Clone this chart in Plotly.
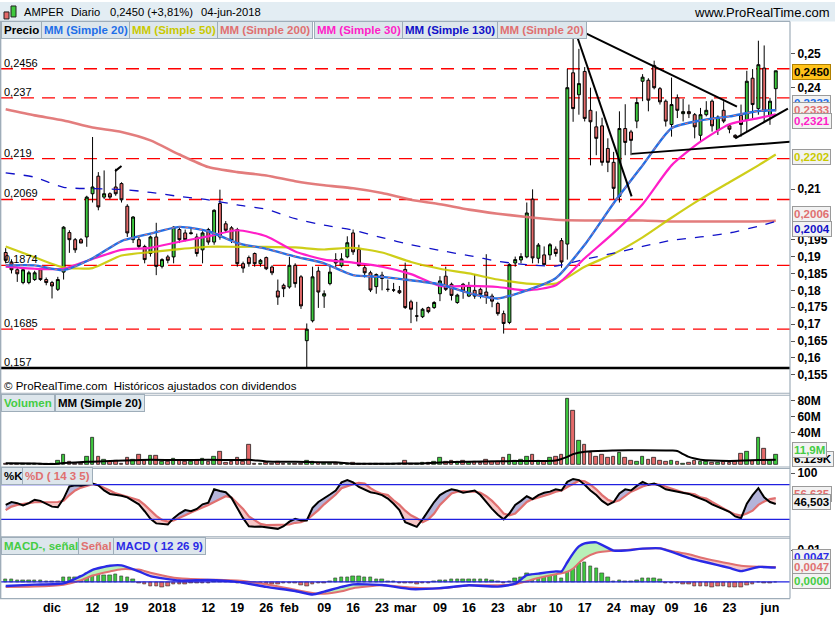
import plotly.graph_objects as go
import pandas as pd

W, H = 835, 620

# ---------------- categories (trading days) ----------------
holidays = ["2017-12-25", "2017-12-26", "2018-01-01", "2018-03-30", "2018-04-02", "2018-05-01"]
dates = [d.strftime("%Y-%m-%d") for d in pd.bdate_range("2017-11-21", "2018-06-04")
         if d.strftime("%Y-%m-%d") not in holidays]
n = len(dates)
pos = {d: k for k, d in enumerate(dates)}

tick_dates = ["2017-12-01", "2017-12-12", "2017-12-19", "2018-01-02", "2018-01-12", "2018-01-19",
              "2018-01-26", "2018-02-01", "2018-02-09", "2018-02-16", "2018-02-23", "2018-03-01",
              "2018-03-09", "2018-03-16", "2018-03-23", "2018-04-03", "2018-04-10", "2018-04-17",
              "2018-04-24", "2018-05-02", "2018-05-09", "2018-05-16", "2018-05-23", "2018-06-01"]
tick_labels = ["dic", "12", "19", "2018", "12", "19", "26", "feb", "09", "16", "23", "mar",
               "09", "16", "23", "abr", "10", "17", "24", "may", "09", "16", "23", "jun"]

# ---------------- prices ----------------
opens = [0.1912, 0.1884, 0.1861, 0.1823, 0.1823, 0.1832, 0.1861, 0.1832, 0.1823, 0.1803,
         0.1854, 0.1971, 0.1950, 0.1950, 0.1958, 0.2086, 0.2138, 0.2076, 0.2086, 0.2106,
         0.2116, 0.2049, 0.1950, 0.1950, 0.1930, 0.1909, 0.1958, 0.1871, 0.1899, 0.1899,
         0.1980, 0.1970, 0.1968, 0.1958, 0.1920, 0.1980, 0.1943, 0.2057, 0.1997, 0.1985,
         0.1980, 0.1879, 0.1897, 0.1909, 0.1879, 0.1897, 0.1869, 0.1798, 0.1815, 0.1810,
         0.1874, 0.1840, 0.1651, 0.1710, 0.1857, 0.1783, 0.1820, 0.1891, 0.1873, 0.1899,
         0.1970, 0.1921, 0.1867, 0.1852, 0.1811, 0.1845, 0.1803, 0.1801, 0.1799, 0.1862,
         0.1766, 0.1724, 0.1722, 0.1749, 0.1749, 0.1790, 0.1842, 0.1818, 0.1764, 0.1818,
         0.1783, 0.1800, 0.1803, 0.1795, 0.1783, 0.1761, 0.1731, 0.1705, 0.1881, 0.1890,
         0.1899, 0.2070, 0.1895, 0.1905, 0.1905, 0.1922, 0.1947, 0.1937, 0.2444, 0.2379,
         0.2448, 0.2333, 0.2284, 0.2287, 0.2220, 0.2179, 0.2078, 0.2279, 0.2269, 0.2301,
         0.2419, 0.2422, 0.2466, 0.2397, 0.2360, 0.2291, 0.2370, 0.2323, 0.2329, 0.2320,
         0.2259, 0.2320, 0.2360, 0.2274, 0.2333, 0.2287, 0.2259, 0.2318, 0.2304, 0.2428,
         0.2338, 0.2458, 0.2318, 0.2397]
highs = [0.1925, 0.1892, 0.1868, 0.1866, 0.1858, 0.1858, 0.1866, 0.1838, 0.1828, 0.1840,
         0.1990, 0.1978, 0.1955, 0.1955, 0.2080, 0.2254, 0.2150, 0.2155, 0.2090, 0.2160,
         0.2120, 0.2055, 0.2020, 0.1958, 0.1935, 0.1962, 0.2000, 0.1895, 0.1905, 0.1990,
         0.1985, 0.1980, 0.1985, 0.1968, 0.1975, 0.1985, 0.2040, 0.2098, 0.2005, 0.1990,
         0.1985, 0.1885, 0.1903, 0.1912, 0.1893, 0.1900, 0.1874, 0.1832, 0.1820, 0.1899,
         0.1880, 0.1845, 0.1702, 0.1870, 0.1870, 0.1800, 0.1876, 0.1910, 0.1910, 0.1960,
         0.1980, 0.1935, 0.1880, 0.1858, 0.1850, 0.1855, 0.1832, 0.1822, 0.1813, 0.1882,
         0.1772, 0.1766, 0.1748, 0.1752, 0.1768, 0.1842, 0.1870, 0.1823, 0.1790, 0.1822,
         0.1825, 0.1848, 0.1808, 0.1907, 0.1790, 0.1766, 0.1740, 0.1880, 0.1900, 0.1910,
         0.2060, 0.2099, 0.1940, 0.1930, 0.1940, 0.1930, 0.1955, 0.2456, 0.2554, 0.2515,
         0.2461, 0.2400, 0.2330, 0.2311, 0.2250, 0.2210, 0.2330, 0.2351, 0.2275, 0.2370,
         0.2440, 0.2428, 0.2480, 0.2402, 0.2365, 0.2430, 0.2380, 0.2367, 0.2350, 0.2325,
         0.2340, 0.2360, 0.2365, 0.2318, 0.2360, 0.2292, 0.2262, 0.2350, 0.2450, 0.2455,
         0.2539, 0.2525, 0.2370, 0.2450]
lows = [0.1880, 0.1850, 0.1825, 0.1818, 0.1818, 0.1828, 0.1828, 0.1815, 0.1776, 0.1798,
        0.1832, 0.1911, 0.1911, 0.1940, 0.1929, 0.2060, 0.2037, 0.2070, 0.2070, 0.2080,
        0.2060, 0.1958, 0.1940, 0.1925, 0.1880, 0.1900, 0.1845, 0.1865, 0.1880, 0.1880,
        0.1940, 0.1945, 0.1965, 0.1900, 0.1880, 0.1935, 0.1935, 0.1950, 0.1970, 0.1940,
        0.1870, 0.1852, 0.1870, 0.1870, 0.1870, 0.1860, 0.1845, 0.1757, 0.1780, 0.1805,
        0.1808, 0.1745, 0.1570, 0.1705, 0.1748, 0.1748, 0.1815, 0.1865, 0.1868, 0.1895,
        0.1905, 0.1870, 0.1838, 0.1795, 0.1790, 0.1800, 0.1796, 0.1795, 0.1789, 0.1745,
        0.1703, 0.1708, 0.1718, 0.1732, 0.1745, 0.1768, 0.1798, 0.1770, 0.1760, 0.1775,
        0.1780, 0.1775, 0.1776, 0.1760, 0.1750, 0.1725, 0.1672, 0.1700, 0.1870, 0.1880,
        0.1895, 0.1880, 0.1880, 0.1875, 0.1890, 0.1900, 0.1867, 0.1891, 0.2299, 0.2320,
        0.2300, 0.2170, 0.2200, 0.2169, 0.2150, 0.2070, 0.2060, 0.2200, 0.2200, 0.2280,
        0.2360, 0.2330, 0.2395, 0.2350, 0.2285, 0.2255, 0.2310, 0.2300, 0.2310, 0.2250,
        0.2240, 0.2315, 0.2270, 0.2260, 0.2295, 0.2265, 0.2250, 0.2255, 0.2270, 0.2310,
        0.2320, 0.2300, 0.2290, 0.2330]
closes = [0.1889, 0.1861, 0.1849, 0.1861, 0.1852, 0.1852, 0.1832, 0.1823, 0.1813, 0.1832,
          0.1987, 0.1950, 0.1920, 0.1940, 0.2076, 0.2106, 0.2047, 0.2086, 0.2076, 0.2086,
          0.2068, 0.1970, 0.2017, 0.1930, 0.1891, 0.1958, 0.1871, 0.1891, 0.1889, 0.1987,
          0.1950, 0.1950, 0.1970, 0.1909, 0.1970, 0.1943, 0.2037, 0.1958, 0.1978, 0.1948,
          0.1879, 0.1866, 0.1879, 0.1879, 0.1889, 0.1864, 0.1852, 0.1780, 0.1805, 0.1874,
          0.1820, 0.1754, 0.1685, 0.1840, 0.1795, 0.1790, 0.1854, 0.1881, 0.1893, 0.1941,
          0.1914, 0.1874, 0.1852, 0.1801, 0.1847, 0.1835, 0.1803, 0.1801, 0.1793, 0.1749,
          0.1744, 0.1724, 0.1744, 0.1737, 0.1764, 0.1828, 0.1803, 0.1785, 0.1786, 0.1798,
          0.1813, 0.1783, 0.1788, 0.1783, 0.1768, 0.1731, 0.1702, 0.1876, 0.1891, 0.1900,
          0.2029, 0.1896, 0.1934, 0.1876, 0.1935, 0.1909, 0.1884, 0.2400, 0.2338, 0.2412,
          0.2309, 0.2299, 0.2250, 0.2179, 0.2179, 0.2102, 0.2279, 0.2238, 0.2244, 0.2356,
          0.2431, 0.2363, 0.2400, 0.2358, 0.2301, 0.2350, 0.2333, 0.2329, 0.2323, 0.2284,
          0.2320, 0.2333, 0.2287, 0.2313, 0.2301, 0.2277, 0.2253, 0.2291, 0.2419, 0.2350,
          0.2468, 0.2330, 0.2360, 0.2450]

# ---------------- volume (millions) ----------------
volumes = [1.5, 1.2, 1.0, 1.2, 1.0, 1.0, 1.5, 1.0, 0.8, 5, 12.5, 3, 1, 1, 10, 33, 10, 6, 3, 5,
           1.5, 8, 6, 12, 5, 11, 11, 3, 3.5, 7, 5, 4, 3, 5, 7, 3, 10, 16, 2, 3,
           8, 3, 25, 1, 1, 2, 1, 4, 1, 1, 1, 1.5, 5, 3, 2, 1, 1, 1.5, 1, 1.5,
           2, 1, 1, 1, 1, 1, 1, 1, 1, 5, 1, 1, 2, 2, 3, 8, 3, 5, 3, 5,
           2, 3, 2, 6, 3, 4, 8, 12, 5, 6, 10, 12, 5, 4, 8, 10, 12, 82, 67, 30,
           25, 15, 10, 12, 8, 10, 15, 8, 5, 4, 10, 6, 8, 5, 4, 5, 3, 1, 2, 5,
           3, 4, 2, 2, 4, 2, 3, 13, 16, 5, 33, 20, 5, 11.9]
volma_idx = [0, 5, 8, 10, 14, 16, 22, 25, 30, 35, 40, 42, 45, 50, 54, 57, 60, 65, 68, 71,
             75, 80, 85, 90, 95, 97, 98, 100, 105, 110, 115, 116, 117, 118, 119, 120, 125, 130, 133]
volma = [1.7, 1.2, 0.6, 1.8, 3.3, 3.8, 5.4, 6.0, 5.5, 6.0, 5.5, 6.0, 3.8, 3.5, 2.9, 2.9, 1.0, 1.0, 1.2, 1.2,
         2.5, 3.5, 4.0, 4.5, 5.0, 9.5, 13.0, 16.0, 17.5, 18.0, 17.5, 17.0, 13.0, 9.5, 7.5, 6.0, 4.5, 5.5, 6.1]

# ---------------- moving averages (price) ----------------
ma_idx = [0, 5, 10, 15, 20, 25, 30, 35, 40, 45, 50, 55, 60, 65, 70, 75, 80, 85, 90, 95,
          100, 105, 110, 115, 120, 125, 130, 133]
sma20 = [0.1874, 0.1874, 0.1860, 0.1895, 0.1946, 0.1968, 0.1988, 0.1975, 0.1940, 0.1923,
         0.1900, 0.1880, 0.1845, 0.1840, 0.1830, 0.1818, 0.1792, 0.1776, 0.1800, 0.1836,
         0.1935, 0.2058, 0.2170, 0.2280, 0.2303, 0.2315, 0.2331, 0.2333]
sma30 = [0.1870, 0.1864, 0.1864, 0.1893, 0.1920, 0.1926, 0.1944, 0.1960, 0.1978, 0.1960,
         0.1915, 0.1891, 0.1882, 0.1870, 0.1848, 0.1813, 0.1813, 0.1810, 0.1800, 0.1815,
         0.1895, 0.1970, 0.2055, 0.2170, 0.2240, 0.2292, 0.2310, 0.2321]
sma50 = [0.1930, 0.1898, 0.1868, 0.1866, 0.1903, 0.1913, 0.1922, 0.1929, 0.1929, 0.1929,
         0.1927, 0.1921, 0.1926, 0.1912, 0.1884, 0.1864, 0.1850, 0.1832, 0.1820, 0.1820,
         0.1870, 0.1908, 0.1957, 0.2015, 0.2070, 0.2120, 0.2170, 0.2202]
sma130 = [0.2148, 0.2135, 0.2105, 0.2101, 0.2099, 0.2090, 0.2078, 0.2068, 0.2053, 0.2040,
          0.2012, 0.1993, 0.1978, 0.1956, 0.1935, 0.1918, 0.1903, 0.1886, 0.1876, 0.1872,
          0.1892, 0.1910, 0.1930, 0.1948, 0.1958, 0.1970, 0.1990, 0.2004]
sma200 = [0.2336, 0.2318, 0.2303, 0.2282, 0.2269, 0.2244, 0.2202, 0.2165, 0.2150, 0.2140,
          0.2123, 0.2111, 0.2102, 0.2088, 0.2068, 0.2055, 0.2039, 0.2027, 0.2017, 0.2009,
          0.2007, 0.2007, 0.2007, 0.2004, 0.2004, 0.2004, 0.2004, 0.2006]

# horizontal levels and drawn trend lines (start day index, price, end day index, price)
levels = [0.2456, 0.237, 0.219, 0.2069, 0.1874, 0.1685]
level_labels = ["0,2456", "0,237", "0,219", "0,2069", "0,1874", "0,1685"]
base_level, base_label = 0.157, "0,157"
trend_lines = [(98.6, 0.2556, 108.1, 0.2078), (100.3, 0.2560, 126.3, 0.2344),
               (108.1, 0.2204, 135.5, 0.2240), (126.0, 0.2250, 135.1, 0.2338),
               (18.9, 0.2153, 20.0, 0.2168)]

# ---------------- stochastic ----------------
stoch_k = [45, 50, 48, 44, 48, 54, 52, 47, 42, 41, 56, 77, 79, 78, 80, 82, 79, 70, 64, 63,
           61, 58, 52, 46, 34, 21, 13, 12, 11, 22, 30, 36, 34, 38, 46, 49, 72, 69, 67, 57,
           40, 22, 8, 7, 7.6, 6, 5, 3.5, 8, 16, 21, 18, 18, 40, 50, 56, 63, 70, 84, 88,
           84, 76, 72, 67, 65, 62, 56, 47, 36, 15, 11, 7, 20, 35, 50, 62, 68, 72, 70, 66,
           68, 70, 62, 50, 38, 28, 20, 30, 45, 52, 60, 55, 62, 66, 68, 72, 70, 85, 90, 88,
           80, 70, 62, 52, 45, 50, 65, 72, 70, 78, 85, 80, 82, 78, 72, 70, 68, 67, 64, 60,
           56, 52, 46, 42, 38, 33, 25, 22, 47, 62, 74, 58, 50, 46.5]
stoch_d = [36, 42, 45, 47, 48, 49.6, 49.5, 49, 49, 50, 52, 62, 70, 75, 78, 81, 79, 75, 70, 65,
           62, 59, 56, 53, 45, 35, 26, 19, 16, 18, 22, 27, 32, 36, 40, 45, 50, 55, 60, 58,
           48, 38, 25, 18, 12, 10, 10, 10, 10, 11, 14, 15, 19, 27, 36, 46, 54, 63, 74, 78,
           81, 83, 82, 74, 68, 64, 62, 53, 45, 35, 27, 22, 15, 20, 30, 45, 55, 65, 68, 69,
           68, 68, 66, 60, 52, 42, 30, 27, 30, 40, 50, 55, 58, 60, 64, 68, 70, 76, 82, 87,
           86, 80, 72, 62, 54, 50, 53, 60, 68, 72, 77, 80, 81, 80, 77, 73, 70, 66.5, 65, 63.5,
           58, 56, 50, 44, 38, 33, 28.5, 26.5, 30, 35, 45, 51, 55, 56.635]

# ---------------- MACD ----------------
macd_idx = [0, 5, 10, 13, 15, 18, 20, 23, 25, 30, 35, 40, 45, 50, 53, 55, 58, 60, 65, 70,
            75, 80, 85, 88, 90, 92, 95, 96, 97, 98, 99, 100, 102, 105, 107, 110, 113, 115, 118, 120,
            123, 125, 127, 130, 133]
macd_line = [-0.0013, -0.0009, -0.0005, 0.0018, 0.0038, 0.0051, 0.0052, 0.0033, 0.0018, 0.0004,
             0.0006, 0.0000, -0.0016, -0.0029, -0.0040, -0.0031, -0.0016, -0.0008, -0.0010, -0.0023,
             -0.0020, -0.0011, -0.0015, -0.0006, 0.0021, 0.0026, 0.0033, 0.0033, 0.0062, 0.0090,
             0.0112, 0.0122, 0.0125, 0.0099, 0.0099, 0.0105, 0.0106, 0.0095, 0.0075, 0.0066,
             0.0053, 0.0044, 0.0034, 0.0047, 0.0045]
signal_line = [-0.0016, -0.0015, -0.0009, 0.0005, 0.0020, 0.0033, 0.0040, 0.0039, 0.0029, 0.0011,
               0.0007, 0.0004, -0.0008, -0.0025, -0.0035, -0.0038, -0.0030, -0.0020, -0.0011, -0.0018,
               -0.0021, -0.0011, -0.0011, -0.0008, 0.0002, 0.0012, 0.0024, 0.0027, 0.0032, 0.0042,
               0.0060, 0.0075, 0.0092, 0.0099, 0.0101, 0.0105, 0.0106, 0.0098, 0.0087, 0.0077,
               0.0065, 0.0058, 0.0051, 0.0048, 0.0047]
macd_hist = [0.0008, 0.0008, 0.0005, 0.0005, 0.0005, 0.0005, 0.0005, 0.0001, 0.0001, 0.0001,
             0.0013, 0.0015, 0.0015, 0.0019, 0.0026, 0.0029, 0.0026, 0.0021, 0.0021, 0.0023,
             0.0019, 0.0013, 0.0008, -0.0003, -0.0009, -0.0013, -0.0013, -0.0018, -0.0015, -0.0008,
             -0.0008, -0.0007, -0.0005, -0.0005, -0.0003, -0.0003, 0.0003, 0.0003, 0.0003, 0.0002,
             -0.0003, -0.0005, -0.0005, -0.0007, -0.0007, -0.0007, -0.0008, -0.0008, -0.0005, -0.0005,
             -0.0005, -0.0010, -0.0013, -0.0008, -0.0005, -0.0003, 0.0001, 0.0011, 0.0013, 0.0016,
             0.0019, 0.0019, 0.0016, 0.0013, 0.0008, 0.0007, 0.0001, 0.0001, -0.0003, -0.0005,
             -0.0005, -0.0008, -0.0003, -0.0003, 0.0001, 0.0005, 0.0005, 0.0008, 0.0008, 0.0008,
             0.0009, 0.0008, 0.0008, 0.0008, 0.0005, 0.0001, -0.0003, 0.0001, 0.0011, 0.0013,
             0.0026, 0.0023, 0.0021, 0.0019, 0.0021, 0.0023, 0.0011, 0.0040, 0.0050, 0.0058,
             0.0061, 0.0050, 0.0042, 0.0026, 0.0014, 0.0001, 0.0005, 0.0001, 0.0001, 0.0005,
             0.0011, 0.0011, 0.0011, 0.0009, -0.0003, -0.0003, -0.0005, -0.0008, -0.0009, -0.0015,
             -0.0015, -0.0015, -0.0018, -0.0015, -0.0015, -0.0018, -0.0018, -0.0018, -0.0010, -0.0007,
             -0.0001, -0.0003, -0.0003, -0.0001]

# ---------------- styling ----------------
GREEN, RED = "#3ec93e", "#e46a6a"
C20, C50, C200, C30, C130 = "#1f6fe8", "#c9c900", "#e07070", "#ff1ec8", "#1010c8"
FONT = "Liberation Sans, Arial, sans-serif"
XMAX = 790  # right edge of plot area (px)
x_dom = [0, XMAX / W]
x_rng = [-0.985, 135.46]


def py(px):
    return 1 - px / H


xi = list(range(n))
fig = go.Figure()

# price panel
for ma, col, w in [(sma200, C200, 2.6), (sma50, C50, 2.2)]:
    fig.add_trace(go.Scatter(x=ma_idx, y=ma, mode="lines", line=dict(color=col, width=w, shape="spline", smoothing=0.6),
                             opacity=0.9, xaxis="x", yaxis="y", hoverinfo="skip"))
fig.add_trace(go.Scatter(x=ma_idx, y=sma130, mode="lines", line=dict(color=C130, width=1.3, dash="9px,9px", shape="spline", smoothing=0.6),
                         xaxis="x", yaxis="y", hoverinfo="skip"))
fig.add_trace(go.Candlestick(x=xi, open=opens, high=highs, low=lows, close=closes,
                             increasing=dict(line=dict(color="black", width=1), fillcolor=GREEN),
                             decreasing=dict(line=dict(color="black", width=1), fillcolor=RED),
                             whiskerwidth=0, xaxis="x", yaxis="y", hoverinfo="skip"))
for ma, col, w in [(sma30, C30, 2.2), (sma20, C20, 2.4)]:
    fig.add_trace(go.Scatter(x=ma_idx, y=ma, mode="lines", line=dict(color=col, width=w, shape="spline", smoothing=0.6),
                             xaxis="x", yaxis="y", hoverinfo="skip"))
fig.add_trace(go.Scatter(x=ma_idx, y=sma20, mode="lines", line=dict(color=C200, width=1, dash="3px,4px", shape="spline", smoothing=0.6),
                         xaxis="x", yaxis="y", hoverinfo="skip"))

# volume panel
vcol = [GREEN if c >= o else RED for o, c in zip(opens, closes)]
fig.add_trace(go.Bar(x=xi, y=volumes, marker=dict(color=vcol, line=dict(color="#202020", width=0.8)),
                     width=0.62, xaxis="x2", yaxis="y2", hoverinfo="skip"))
fig.add_trace(go.Scatter(x=volma_idx, y=volma, mode="lines", line=dict(color="black", width=2, shape="spline", smoothing=0.6),
                         xaxis="x2", yaxis="y2", hoverinfo="skip"))


def fill_runs(xs, a, b):
    pts = [(xs[0], a[0], b[0])]
    for k in range(len(xs) - 1):
        d0, d1 = a[k] - b[k], a[k + 1] - b[k + 1]
        if d0 * d1 < 0:
            t = d0 / (d0 - d1)
            xm = xs[k] + t * (xs[k + 1] - xs[k])
            ym = a[k] + t * (a[k + 1] - a[k])
            pts.append((xm, ym, ym))
        pts.append((xs[k + 1], a[k + 1], b[k + 1]))
    runs, cur, sign = [], [pts[0]], None
    for p in pts[1:]:
        cur.append(p)
        d = p[1] - p[2]
        if d == 0:
            if sign is not None:
                runs.append((sign, cur))
            cur, sign = [p], None
        elif sign is None:
            sign = d > 0
    if sign is not None:
        runs.append((sign, cur))
    out = {True: ([], []), False: ([], [])}
    for s, r in runs:
        X, Y = out[s]
        X += [p[0] for p in r] + [p[0] for p in reversed(r)] + [None]
        Y += [p[1] for p in r] + [p[2] for p in reversed(r)] + [None]
    return out


# stochastic panel
sf = fill_runs(xi, stoch_k, stoch_d)
for s, col in [(True, "#b4b4da"), (False, "#f6c6c6")]:
    fig.add_trace(go.Scatter(x=sf[s][0], y=sf[s][1], mode="lines", fill="toself", fillcolor=col,
                             line=dict(width=0), xaxis="x3", yaxis="y3", hoverinfo="skip"))
fig.add_trace(go.Scatter(x=xi, y=stoch_d, mode="lines", line=dict(color="#e07070", width=2.2),
                         xaxis="x3", yaxis="y3", hoverinfo="skip"))
fig.add_trace(go.Scatter(x=xi, y=stoch_k, mode="lines", line=dict(color="black", width=2),
                         xaxis="x3", yaxis="y3", hoverinfo="skip"))

# MACD panel
mf = fill_runs(macd_idx, macd_line, signal_line)
for s, col in [(True, "#b8f0b8"), (False, "#f6c6c6")]:
    fig.add_trace(go.Scatter(x=mf[s][0], y=mf[s][1], mode="lines", fill="toself", fillcolor=col,
                             line=dict(width=0), xaxis="x4", yaxis="y4", hoverinfo="skip"))
hcol = [GREEN if v >= 0 else RED for v in macd_hist]
fig.add_trace(go.Bar(x=xi, y=macd_hist, marker=dict(color=hcol, line=dict(color="#303030", width=0.6)),
                     width=0.6, xaxis="x4", yaxis="y4", hoverinfo="skip"))
fig.add_trace(go.Scatter(x=macd_idx, y=signal_line, mode="lines", line=dict(color="#e07070", width=2, shape="spline", smoothing=0.5),
                         xaxis="x4", yaxis="y4", hoverinfo="skip"))
fig.add_trace(go.Scatter(x=macd_idx, y=macd_line, mode="lines", line=dict(color="#2a2ae6", width=2.4, shape="spline", smoothing=0.5),
                         xaxis="x4", yaxis="y4", hoverinfo="skip"))

shapes = []
# level lines
for lv in levels:
    shapes.append(dict(type="line", xref="x domain", yref="y", x0=0, x1=1, y0=lv, y1=lv,
                       line=dict(color="#ff0000", width=1.3, dash="13px,8px"), layer="below"))
shapes.append(dict(type="line", xref="x domain", yref="y", x0=0, x1=1, y0=base_level, y1=base_level,
                   line=dict(color="black", width=2.6)))
for (a0, p0, a1, p1) in trend_lines:
    shapes.append(dict(type="line", xref="x", yref="y", x0=a0, x1=a1, y0=p0, y1=p1,
                       line=dict(color="black", width=2)))
# stoch / macd guide lines
for v in (80, 20):
    shapes.append(dict(type="line", xref="x3 domain", yref="y3", x0=0, x1=1, y0=v, y1=v,
                       line=dict(color="#2020e0", width=1.2)))
shapes.append(dict(type="line", xref="x4 domain", yref="y4", x0=0, x1=1, y0=0, y1=0,
                   line=dict(color="#2020e0", width=1.4)))
# header band
shapes.append(dict(type="rect", xref="paper", yref="paper", x0=0, x1=1, y0=py(19.5), y1=1,
                   fillcolor="#e3edf3", line=dict(width=0), layer="below"))
# icon
shapes.append(dict(type="rect", xref="paper", yref="paper", x0=4 / W, x1=9 / W, y0=py(17), y1=py(10),
                   fillcolor=RED, line=dict(color="#202020", width=1)))
shapes.append(dict(type="rect", xref="paper", yref="paper", x0=11 / W, x1=16 / W, y0=py(15), y1=py(4),
                   fillcolor=GREEN, line=dict(color="#202020", width=1)))
# panel separators
SEP = "#9fadb9"
for ypx in [19.5, 392.5, 394.5, 466.5, 468, 536.5, 538, 598.5]:
    shapes.append(dict(type="line", xref="paper", yref="paper", x0=0, x1=XMAX / W, y0=py(ypx), y1=py(ypx),
                       line=dict(color=SEP, width=1.2)))
shapes.append(dict(type="line", xref="paper", yref="paper", x0=XMAX / W, x1=XMAX / W, y0=py(598.5), y1=py(19.5),
                   line=dict(color=SEP, width=1.2)))
shapes.append(dict(type="line", xref="paper", yref="paper", x0=0.6 / W, x1=0.6 / W, y0=py(598.5), y1=py(19.5),
                   line=dict(color=SEP, width=1.5)))

ann = []


def text(t, xpx, ypx, size=12, color="black", bold=False, anchor="left", bg=None, border=None, pad=1):
    d = dict(x=xpx / W, y=py(ypx), xref="paper", yref="paper", showarrow=False, xanchor=anchor,
             yanchor="middle", text=("<b>%s</b>" % t) if bold else t,
             font=dict(family=FONT, size=size, color=color))
    if bg:
        d.update(bgcolor=bg, bordercolor=border or bg, borderwidth=1, borderpad=pad)
    ann.append(d)


# header
text("AMPER", 22, 10, 11.2)
text("Diario", 69, 10, 11.2)
text("0,2450 (+3,81%)", 108, 10, 11.2)
text("04-jun-2018", 199, 10, 11.2)
text("www.ProRealTime.com", 832, 11, 13, anchor="right")

# legends
LBG, LBD = "#dde6ec", "#9eadb9"
for t, c, x in [("Precio", "black", 1), ("MM (Simple 20)", C20, 41), ("MM (Simple 50)", C50, 129),
                ("MM (Simple 200)", C200, 217), ("MM (Simple 30)", C30, 314), ("MM (Simple 130)", C130, 402),
                ("MM (Simple 20)", C200, 497)]:
    text(t, x, 28, 11.5, c, True, bg=LBG, border=LBD, pad=2)
for t, c, x in [("Volumen", "#44cc44", 1), ("MM (Simple 20)", "black", 55)]:
    text(t, x, 402.5, 11.5, c, True, bg=LBG, border=LBD, pad=2)
for t, c, x in [("%K", "black", 1), ("%D ( 14 3 5)", C200, 22)]:
    text(t, x, 475.5, 11.5, c, True, bg=LBG, border=LBD, pad=2)
for t, c, x in [("MACD-, señal", "#44cc44", 1), ("Señal", C200, 78), ("MACD ( 12 26 9)", "#2a2ae6", 113)]:
    text(t, x, 545.5, 11.5, c, True, bg=LBG, border=LBD, pad=2)

# level labels on the left
for lv, lb in zip(levels + [base_level], level_labels + [base_label]):
    ann.append(dict(x=2 / W, xref="paper", y=lv, yref="y", yshift=6, showarrow=False, xanchor="left",
                    yanchor="middle", text=lb, font=dict(family=FONT, size=11, color="black")))

text("© ProRealTime.com  Históricos ajustados con dividendos", 2, 385, 11.5)

# right side value boxes
BOXBG, BOXBD = "#f2f2f2", "#9a9a9a"
text("0,2450", 792, 70, 11.5, "black", True, bg="#ffc21a", border="#b08000")
text("0,2333", 792, 101, 11.5, C20, True, bg=BOXBG, border=BOXBD)
text("0,2333", 792, 108, 11.5, C200, True, bg=BOXBG, border=BOXBD)
text("0,2321", 792, 119, 11.5, C30, True, bg=BOXBG, border=BOXBD)
text("0,2202", 792, 155, 11.5, C50, True, bg=BOXBG, border=BOXBD)
text("0,2006", 792, 213, 11.5, C200, True, bg=BOXBG, border=BOXBD)
text("0,2004", 792, 228, 11.5, C130, True, bg=BOXBG, border=BOXBD)
text("6.129K", 792, 458, 11.5, "black", True, bg=BOXBG, border=BOXBD)
text("11,9M", 792, 449, 11.5, "#44cc44", True, bg=BOXBG, border=BOXBD)
text("56,635", 792, 494, 11.5, C200, True, bg=BOXBG, border=BOXBD)
text("46,503", 792, 502, 11.5, "black", True, bg=BOXBG, border=BOXBD)
text("0,0047", 792, 557, 11.5, "#2a2ae6", True, bg=BOXBG, border=BOXBD)
text("0,0047", 792, 567, 11.5, C200, True, bg=BOXBG, border=BOXBD)
text("0,0000", 792, 581, 11.5, "#44cc44", True, bg=BOXBG, border=BOXBD)

price_ticks = [0.155, 0.16, 0.165, 0.17, 0.175, 0.18, 0.185, 0.19, 0.195, 0.21, 0.24, 0.25]
price_text = [("%g" % v).replace(".", ",") for v in price_ticks]

yax = dict(side="right", showgrid=False, zeroline=False, ticks="outside", ticklen=4, tickcolor="#555",
           tickfont=dict(family=FONT, size=12, color="black", weight="bold"), showline=False, fixedrange=True)
xax = dict(range=x_rng, domain=x_dom, showgrid=False, zeroline=False, showticklabels=False, ticks="",
           showline=False, fixedrange=True)

fig.update_layout(
    width=W, height=H, margin=dict(l=0, r=0, t=0, b=0), paper_bgcolor="white", plot_bgcolor="white",
    showlegend=False, boxgap=0.28, bargap=0, hovermode=False,
    xaxis=dict(xax, rangeslider=dict(visible=False), anchor="y"),
    xaxis2=dict(xax, anchor="y2"),
    xaxis3=dict(xax, anchor="y3"),
    xaxis4=dict(xax, anchor="y4", showticklabels=True, tickvals=[pos[d] for d in tick_dates],
                ticktext=tick_labels, tickfont=dict(family=FONT, size=12.5, color="black", weight="bold")),
    yaxis=dict(yax, domain=[py(392), py(20)], range=[0.14969, 0.25946], tickvals=price_ticks,
               ticktext=price_text, anchor="x"),
    yaxis2=dict(yax, domain=[py(466), py(394)], range=[-2.5, 87.5], tickvals=[40, 60, 80],
                ticktext=["40M", "60M", "80M"], anchor="x2"),
    yaxis3=dict(yax, domain=[py(534), py(468)], range=[-5.9, 108.1], tickvals=[100], ticktext=["100"],
                anchor="x3"),
    yaxis4=dict(yax, domain=[py(598), py(538)], range=[-0.00514, 0.01379], tickvals=[0.01],
                ticktext=["0,01"], anchor="x4"),
    shapes=shapes, annotations=ann,
)

fig.write_html("out.html")
